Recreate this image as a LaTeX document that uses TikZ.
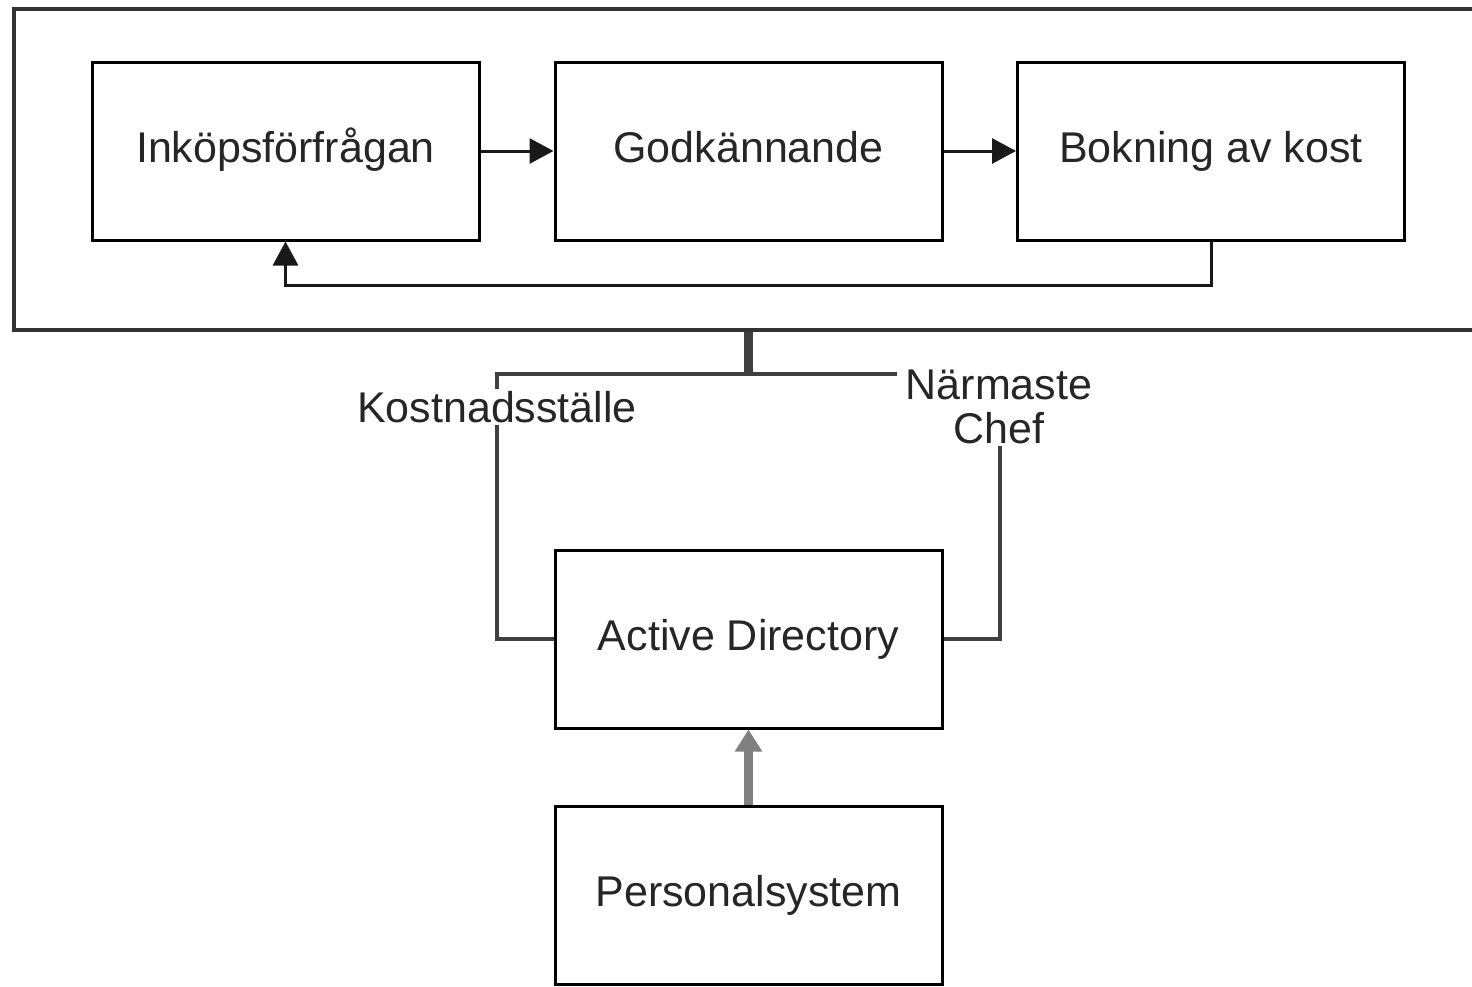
\documentclass[tikz,border=0pt]{standalone}
\usepackage{fontspec}
\setmainfont{Liberation Sans}
\usetikzlibrary{arrows.meta}
\begin{document}
\begin{tikzpicture}[x=0.5pt,y=-0.5pt,
  every node/.style={font=\fontsize{21.5}{25}\selectfont, text=black!85},
  box/.style={draw=black, line width=1.5pt, minimum width=193.5pt, minimum height=89pt, inner sep=0pt, fill=white, text height=16pt, text depth=4.5pt},
  frm/.style={draw=black!80, line width=1.6pt, minimum width=743pt, minimum height=160.5pt, inner sep=0pt},
  arr/.style={draw=black!90, line width=1.5pt, -{Triangle[length=12pt,width=12.5pt]}},
  conn/.style={draw=black!75, line width=1.6pt},
  lbl/.style={fill=white, inner sep=1pt, align=center}]
\useasboundingbox (0,0) rectangle (1472,986);
\begin{scope}
\clip (0,0) rectangle (1472,986);
\node[frm] (frame) at (757,169.5) {};
\end{scope}
\node[box] (inq) at (285.5,151) {Inköpsförfrågan};
\node[box] (god) at (748.5,151) {Godkännande};
\node[box] (book) at (1211,151) {Bokning av kost};
\node[box] (ad) at (748.5,639) {Active Directory};
\node[box] (ps) at (748.5,895) {Personalsystem};
\coordinate (fb) at (0,285);
\coordinate (j) at (748.5,374);
\coordinate (lk) at (497,374);
\coordinate (rk) at (1000,374);
\draw[arr] (inq.east) -- (god.west);
\draw[arr] (god.east) -- (book.west);
\draw[arr] (book.south) -- (book.south |- fb) -| (inq.south);
\draw[draw=black!75, line width=4.5pt] (frame.south -| j) -- (j);
\draw[conn] (ad.west) -| (lk) -- (rk) |- (ad.east);
\node[lbl] (kl) at (497,407) {Kostnadsställe};
\node[lbl, text width=100pt] (nl) at (999,407) {Närmaste\\[-3pt]Chef};
\draw[draw=black!50, line width=4.5pt, -{Triangle[length=11pt,width=13pt]}] (ps.north) -- (ad.north |- ad.south);
\end{tikzpicture}
\end{document}
